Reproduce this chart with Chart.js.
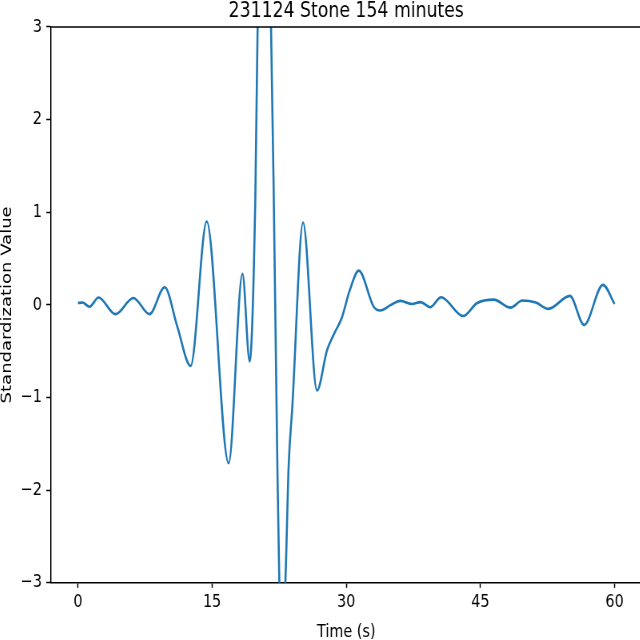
<!DOCTYPE html>
<html>
<head>
<meta charset="utf-8">
<script src="https://cdn.jsdelivr.net/npm/chart.js@4.4.1/dist/chart.umd.min.js"></script>
<style>
    html, body { margin: 0; padding: 0; overflow: hidden; background: #fff; width: 640px; height: 640px; }
    /* the reference looks horizontally squeezed, so draw wide and squeeze it */
    #wrap { position: absolute; left: -1px; top: 0; transform: scaleX(0.8); transform-origin: 0 0; }
</style>
</head>
<body>
<div id="wrap">
    <canvas id="seismoChart" width="803" height="643" style="width:803px;height:643px"></canvas>
</div>
<script>
// values
const timeSec = [0, 0.5, 1.3, 2.3, 4.2, 6.2, 8.0, 9.7, 11.1, 12.6, 14.4, 16.85, 18.4, 19.2,
    19.83, 20.09, 20.85, 21.59, 21.9, 22.3, 22.52, 22.85, 23.19, 23.56, 23.97, 25.17, 26.73,
    27.85, 28.6, 29.5, 30.4, 31.4, 33.07, 33.8, 35.0, 36.05, 37.36, 38.3, 39.4, 40.6, 43.07,
    44.6, 46.5, 48.36, 49.7, 51.2, 52.6, 55.0, 56.6, 58.7, 60];
const stdValue = [0.02, 0.025, -0.02, 0.08, -0.10, 0.075, -0.10, 0.19, -0.23, -0.66, 0.90, -1.71, 0.335, -0.61,
    1.13, 3.0, 5.4, 3.0, 1.13, -1.74, -3.0, -3.5, -3.0, -1.74, -1.1, 0.89, -0.925,
    -0.49, -0.32, -0.14, 0.16, 0.37, -0.02, -0.06, 0.0, 0.043, 0.01, 0.03, -0.025, 0.083, -0.12,
    0.018, 0.057, -0.03, 0.047, 0.025, -0.043, 0.097, -0.216, 0.216, 0.01];
const xTicks = [0, 15, 30, 45, 60];
const yTicks = [-3, -2, -1, 0, 1, 2, 3];

const FONT = "'DejaVu Sans', sans-serif";

// matplotlib draws a top spine too (the right one sits just off the picture)
const topSpine = {
    id: "topSpine",
    afterDraw(chart) {
        const { ctx, chartArea } = chart;
        ctx.save();
        ctx.strokeStyle = "#000";
        ctx.lineWidth = 1.5;
        ctx.beginPath();
        ctx.moveTo(chartArea.left, chartArea.top);
        ctx.lineTo(chartArea.right + 10, chartArea.top);
        ctx.stroke();
        ctx.restore();
    }
};

function fmt(v) {
    return v < 0 ? "\u2212" + Math.abs(v) : String(v);
}

document.addEventListener("DOMContentLoaded", () => {
    const points = timeSec.map((t, i) => ({ x: t, y: stdValue[i] }));
    const ctx = document.getElementById("seismoChart").getContext("2d");

    new Chart(ctx, {
        type: "line",
        data: {
            datasets: [{
                data: points,
                borderColor: "#1f77b4",
                borderWidth: 2.6,
                pointRadius: 0,
                fill: false,
                cubicInterpolationMode: "monotone"
            }]
        },
        options: {
            responsive: false,
            animation: false,
            devicePixelRatio: 1,
            layout: { padding: 0 },
            plugins: {
                legend: { display: false },
                tooltip: { enabled: false },
                title: {
                    display: true,
                    text: "231124 Stone 154 minutes",
                    color: "#000",
                    fullSize: false,
                    font: { family: FONT, size: 21.6, weight: "normal", lineHeight: 1.1 },
                    padding: { top: 0, bottom: 3.2 }
                }
            },
            scales: {
                x: {
                    type: "linear",
                    min: -3,
                    max: 63,
                    afterBuildTicks: axis => { axis.ticks = xTicks.map(v => ({ value: v })); },
                    grid: { drawOnChartArea: false, tickLength: 5, tickColor: "#000", tickWidth: 1.5 },
                    border: { display: true, color: "#000", width: 1.5 },
                    ticks: { color: "#000", padding: 4, maxRotation: 0, font: { family: FONT, size: 18 }, callback: v => fmt(v) },
                    title: {
                        display: true,
                        text: "Time (s)",
                        color: "#000",
                        font: { family: FONT, size: 18 },
                        padding: { top: 4, bottom: 0 }
                    }
                },
                y: {
                    min: -3,
                    max: 3,
                    afterBuildTicks: axis => { axis.ticks = yTicks.map(v => ({ value: v })); },
                    grid: { drawOnChartArea: false, tickLength: 6, tickColor: "#000", tickWidth: 1.5 },
                    border: { display: true, color: "#000", width: 1.5 },
                    ticks: { color: "#000", padding: 5.5, font: { family: FONT, size: 18 }, callback: v => fmt(v) },
                    title: {
                        display: true,
                        text: "Standardization Value",
                        color: "#000",
                        font: { family: FONT, size: 18 },
                        padding: { top: 0, bottom: 0 }
                    }
                }
            }
        },
        plugins: [topSpine]
    });
});
</script>
</body>
</html>
